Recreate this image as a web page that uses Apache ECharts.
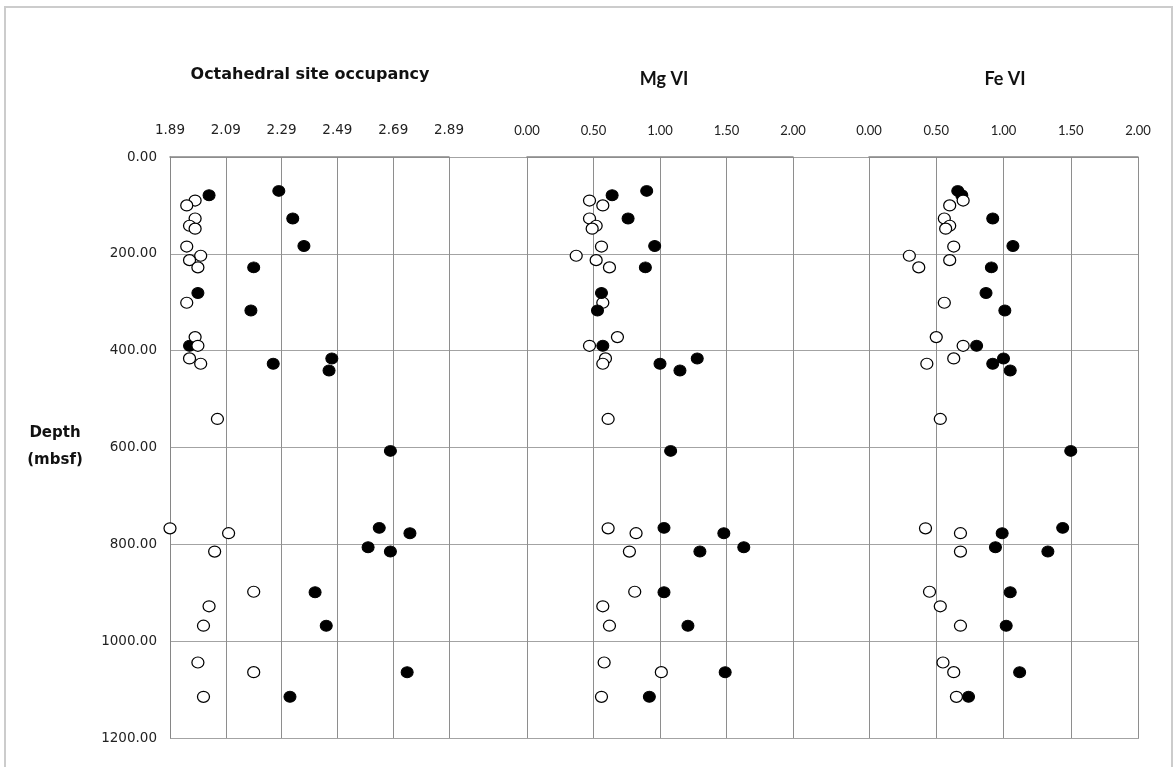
<!DOCTYPE html>
<html>
<head>
<meta charset="utf-8">
<script src="https://cdn.jsdelivr.net/npm/echarts@6/dist/echarts.min.js"></script>
<style>
html,body{margin:0;padding:0;background:#fff;}
#chart{width:1175px;height:767px;}
</style>
</head>
<body>
<div id="chart"></div>
<script>
// ---- data (depth in mbsf) ----
const depthFilled = [70, 79, 127, 184, 228, 281, 317, 390, 416, 427, 441, 607, 766, 777, 806, 815, 899, 968, 1064, 1115];
const octFilled   = [2.28, 2.03, 2.33, 2.37, 2.19, 1.99, 2.18, 1.96, 2.47, 2.26, 2.46, 2.68, 2.64, 2.75, 2.60, 2.68, 2.41, 2.45, 2.74, 2.32];
const mgFilled    = [0.90, 0.64, 0.76, 0.96, 0.89, 0.56, 0.53, 0.57, 1.28, 1.00, 1.15, 1.08, 1.03, 1.48, 1.63, 1.30, 1.03, 1.21, 1.49, 0.92];
const feFilled    = [0.66, 0.69, 0.92, 1.07, 0.91, 0.87, 1.01, 0.80, 1.00, 0.92, 1.05, 1.50, 1.44, 0.99, 0.94, 1.33, 1.05, 1.02, 1.12, 0.74];

const depthOpen = [90, 100, 127, 142, 148, 185, 204, 213, 228, 301, 372, 390, 416, 427, 541, 767, 777, 815, 898, 928, 968, 1044, 1064, 1115];
const octOpen   = [1.98, 1.95, 1.98, 1.96, 1.98, 1.95, 2.00, 1.96, 1.99, 1.95, 1.98, 1.99, 1.96, 2.00, 2.06, 1.89, 2.10, 2.05, 2.19, 2.03, 2.01, 1.99, 2.19, 2.01];
const mgOpen    = [0.47, 0.57, 0.47, 0.52, 0.49, 0.56, 0.37, 0.52, 0.62, 0.57, 0.68, 0.47, 0.59, 0.57, 0.61, 0.61, 0.82, 0.77, 0.81, 0.57, 0.62, 0.58, 1.01, 0.56];
const feOpen    = [0.70, 0.60, 0.56, 0.60, 0.57, 0.63, 0.30, 0.60, 0.37, 0.56, 0.50, 0.70, 0.63, 0.43, 0.53, 0.42, 0.68, 0.68, 0.45, 0.53, 0.68, 0.55, 0.63, 0.65];

// ---- axis ranges / tick labels ----
const panelTitles = ['Octahedral site occupancy', 'Mg VI', 'Fe VI'];
const depthRange = [0, 1200, 200];       // min, max, step
const octRange = [1.89, 2.89, 0.2];      // tick labels 1.89 ... 2.89
const mgRange = [0, 2, 0.5];
const feRange = [0, 2, 0.5];

const pairs = (xs, ys) => xs.map((x, i) => [x, ys[i]]);

const chart = echarts.init(document.getElementById('chart'), null, {renderer: 'canvas'});

const GRID_TOP = 157, GRID_H = 581;
const gridLineCol = '#a3a3a3';
const vLineCol = '#8e8e8e';
const axisCol = '#868686';

const hiddenY = (gi) => ({
  gridIndex: gi, type: 'value', inverse: true,
  min: depthRange[0], max: depthRange[1], interval: depthRange[2], show: false
});

const topAxis = (gi, min, max, step, fmt, font, size) => ({
  gridIndex: gi, type: 'value', position: 'top', min: min, max: max, interval: step,
  axisLine: {show: true, onZero: false, lineStyle: {color: axisCol, width: 1.5}},
  axisTick: {show: false},
  splitLine: {show: true, lineStyle: {color: vLineCol, width: 1}},
  axisLabel: {margin: 20, color: '#222', fontFamily: font, fontSize: size, formatter: fmt}
});

const openStyle = {color: '#ffffff', borderColor: '#000000', borderWidth: 1.2, opacity: 1};
const fillStyle = {color: '#000000', borderColor: '#000000', borderWidth: 1, opacity: 1};
const SYM = [12, 11];

const sc = (name, xi, yi, data, style) => ({
  type: 'scatter', name: name, xAxisIndex: xi, yAxisIndex: yi,
  data: data, symbol: 'circle', symbolSize: SYM, itemStyle: style,
  clip: false, silent: true, z: 3
});

const option = {
  backgroundColor: '#ffffff',
  animation: false,
  grid: [
    {left: 170, top: GRID_TOP, width: 969, height: GRID_H},
    {left: 170, top: GRID_TOP, width: 279, height: GRID_H},
    {left: 527, top: GRID_TOP, width: 266, height: GRID_H},
    {left: 869, top: GRID_TOP, width: 269, height: GRID_H}
  ],
  xAxis: [
    {gridIndex: 0, type: 'value', min: 0, max: 1, show: false},
    // tick helper for octahedral axis (offset from 1.89)
    topAxis(1, 0, octRange[1] - octRange[0], octRange[2],
      v => (octRange[0] + v).toFixed(2), 'DejaVu Sans', 13.5),
    {gridIndex: 1, type: 'value', min: octRange[0], max: octRange[1], show: false},
    topAxis(2, mgRange[0], mgRange[1], mgRange[2], v => v.toFixed(2), 'Lato', 13),
    topAxis(3, feRange[0], feRange[1], feRange[2], v => v.toFixed(2), 'Lato', 13)
  ],
  yAxis: [
    {
      gridIndex: 0, type: 'value', inverse: true,
      min: depthRange[0], max: depthRange[1], interval: depthRange[2],
      axisLine: {show: true, lineStyle: {color: axisCol, width: 1}},
      axisTick: {show: false},
      splitLine: {show: true, lineStyle: {color: gridLineCol, width: 1.2}},
      axisLabel: {margin: 13, color: '#222', fontFamily: 'DejaVu Sans', fontSize: 13.5,
        formatter: v => v.toFixed(2)}
    },
    hiddenY(1), hiddenY(2), hiddenY(3)
  ],
  series: [
    sc('Oct filled', 2, 1, pairs(octFilled, depthFilled), fillStyle),
    sc('Oct open', 2, 1, pairs(octOpen, depthOpen), openStyle),
    sc('Mg open', 3, 2, pairs(mgOpen, depthOpen), openStyle),
    sc('Mg filled', 3, 2, pairs(mgFilled, depthFilled), fillStyle),
    sc('Fe filled', 4, 3, pairs(feFilled, depthFilled), fillStyle),
    sc('Fe open', 4, 3, pairs(feOpen, depthOpen), openStyle)
  ],
  graphic: [
    {type: 'rect', shape: {x: 5, y: 7, width: 1167, height: 775},
      style: {fill: 'none', stroke: '#cccccc', lineWidth: 2}, silent: true, z: 0},
    {type: 'text', x: 310, y: 75, style: {text: panelTitles[0], textAlign: 'center', textVerticalAlign: 'middle',
      font: 'bold 16px "DejaVu Sans"', fill: '#111'}},
    {type: 'text', x: 664, y: 79, style: {text: panelTitles[1], textAlign: 'center', textVerticalAlign: 'middle',
      font: 'bold 18px Lato', fill: '#111'}},
    {type: 'text', x: 1005, y: 79, style: {text: panelTitles[2], textAlign: 'center', textVerticalAlign: 'middle',
      font: 'bold 18px Lato', fill: '#111'}},
    {type: 'text', x: 55, y: 447, style: {text: 'Depth\n(mbsf)', textAlign: 'center', textVerticalAlign: 'middle',
      font: 'bold 15px "DejaVu Sans"', lineHeight: 27, fill: '#111'}}
  ]
};

chart.setOption(option);
</script>
</body>
</html>
